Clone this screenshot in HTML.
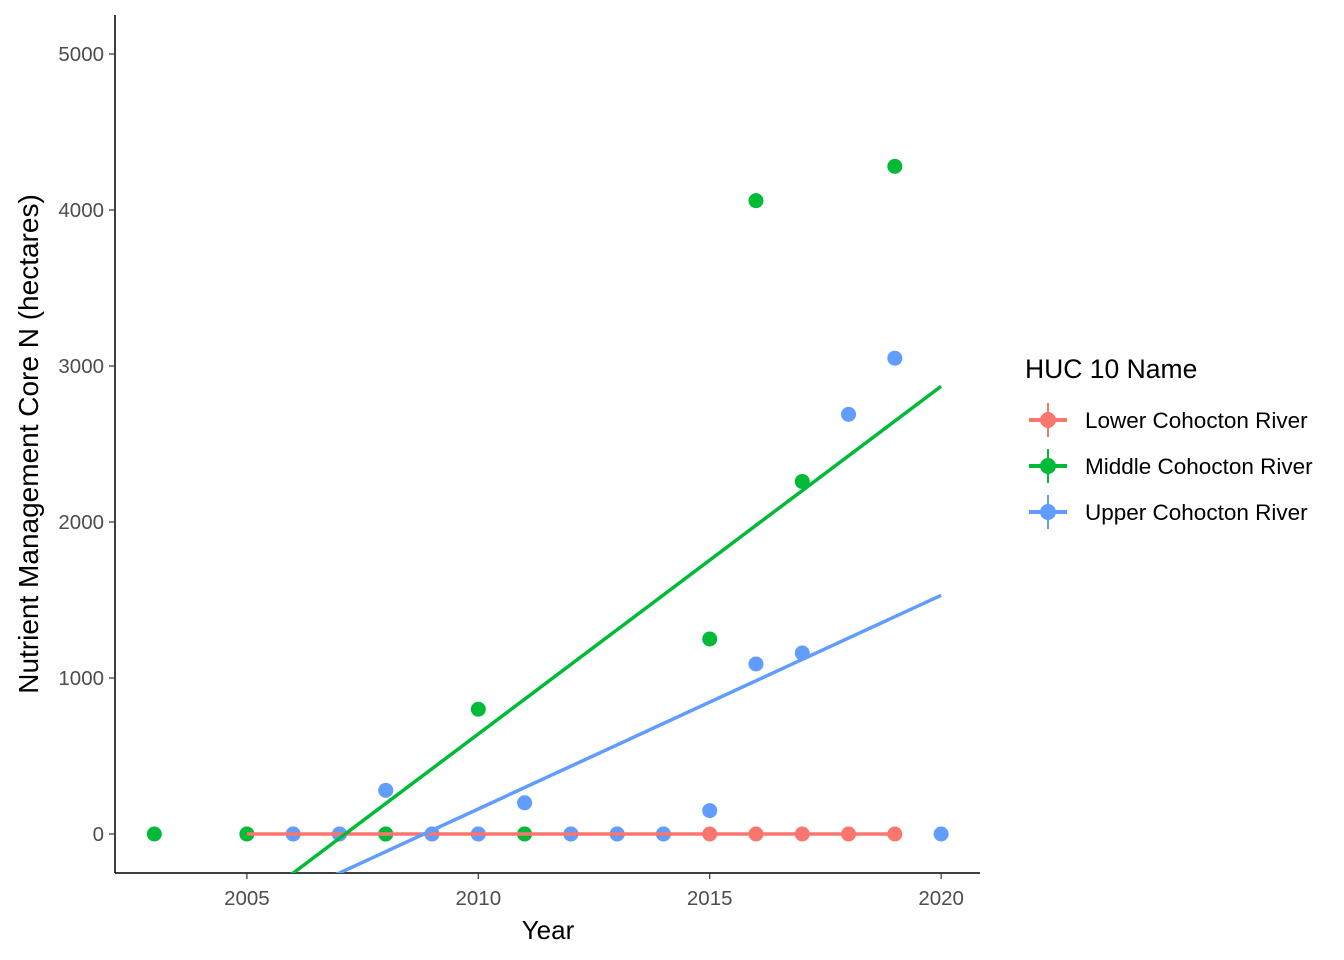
<!DOCTYPE html>
<html><head><meta charset="utf-8"><style>
html,body{margin:0;padding:0;background:#fff;}
svg{display:block;font-family:"Liberation Sans",Arial,sans-serif;}
</style></head><body>
<svg id="chart" width="1344" height="960"></svg>
<script>
const lowerYears=[2005,2006,2007,2008,2009,2010,2011,2012,2013,2014,2015,2016,2017,2018,2019];
const lowerVals=[0,0,0,0,0,0,0,0,0,0,0,0,0,0,0];
const middleYears=[2003,2005,2008,2010,2011,2015,2016,2017,2019];
const middleVals=[0,0,0,800,0,1250,4060,2260,4280];
const upperYears=[2006,2007,2008,2009,2010,2011,2012,2013,2014,2015,2016,2017,2018,2019,2020];
const upperVals=[0,0,280,0,0,200,0,0,0,150,1090,1160,2690,3050,0];
const trendYears=[[2005,2019],[2003,2020],[2006,2020]];
const trendVals=[[0,0],[-919,2870],[-387,1530]];
const seriesNames=["Lower Cohocton River","Middle Cohocton River","Upper Cohocton River"];
const xTicks=[2005,2010,2015,2020];
const yTicks=[0,1000,2000,3000,4000,5000];

const colors=["#F8766D","#00BA38","#619CFF"];
const L=115,R=980,T=15,B=873;
const x0=2002.15,x1=2020.84,y0=-250,y1=5250;
const sx=v=>L+(v-x0)/(x1-x0)*(R-L);
const sy=v=>B-(v-y0)/(y1-y0)*(B-T);
const NS="http://www.w3.org/2000/svg";
const svg=document.getElementById('chart');
function mk(tag,attrs,parent){const e=document.createElementNS(NS,tag);for(const k in attrs)e.setAttribute(k,attrs[k]);(parent||svg).appendChild(e);return e;}

const defs=mk('defs',{});
const cp=mk('clipPath',{id:'clip'},defs);
mk('rect',{x:L,y:T,width:R-L,height:B-T},cp);

const ax=mk('line',{x1:L,y1:T,x2:L,y2:B,stroke:'#000','stroke-width':1.5});


const ax2=mk('line',{x1:L,y1:B,x2:R,y2:B,stroke:'#000','stroke-width':1.5});



yTicks.forEach(t=>{
  const y=sy(t);
  const tk=mk('line',{x1:L-6,y1:y,x2:L,y2:y,stroke:'#333','stroke-width':1.2});
  
  
  const tx=mk('text',{x:L-11,y:y+7,'text-anchor':'end','font-size':20.5,fill:'#4D4D4D'});
  tx.textContent=t;
  
  
});
xTicks.forEach(t=>{
  const x=sx(t);
  const tk=mk('line',{x1:x,y1:B,x2:x,y2:B+6,stroke:'#333','stroke-width':1.2});
  
  
  const tx=mk('text',{x:x,y:B+32,'text-anchor':'middle','font-size':20.5,fill:'#4D4D4D'});
  tx.textContent=t;
  
  
});

const xt=mk('text',{x:548,y:939,'text-anchor':'middle','font-size':26,fill:'#000'});
xt.textContent='Year';


const yt=mk('text',{x:0,y:0,transform:'translate(38,444) rotate(-90)','text-anchor':'middle','font-size':28,fill:'#000'});
yt.textContent='Nutrient Management Core N (hectares)';



const plot=mk('g',{'clip-path':'url(#clip)'});


const pts=[[lowerYears,lowerVals],[middleYears,middleVals],[upperYears,upperVals]];
pts.forEach((s,i)=>{
  s[0].forEach((yr,j)=>{
    const c=mk('circle',{cx:sx(yr),cy:sy(s[1][j]),r:7.5,fill:colors[i]},plot);
    
    
  });
});
trendYears.forEach((ty,i)=>{
  const l=mk('line',{x1:sx(ty[0]),y1:sy(trendVals[i][0]),x2:sx(ty[1]),y2:sy(trendVals[i][1]),stroke:colors[i],'stroke-width':3.5},plot);
  
  
});

const lt=mk('text',{x:1025,y:378,'font-size':26.5,fill:'#000'});
lt.textContent='HUC 10 Name';


seriesNames.forEach((n,i)=>{
  const cy=420+i*46;
  const g=mk('g',{});
  
  
  mk('line',{x1:1029,y1:cy,x2:1067,y2:cy,stroke:colors[i],'stroke-width':4},g);
  mk('line',{x1:1048,y1:cy-17,x2:1048,y2:cy+17,stroke:colors[i],'stroke-width':2},g);
  mk('circle',{cx:1048,cy:cy,r:8,fill:colors[i]},g);
  const t=mk('text',{x:1085,y:cy+8,'font-size':22.5,fill:'#000'},g);
  t.textContent=n;
});
</script>
</body></html>
